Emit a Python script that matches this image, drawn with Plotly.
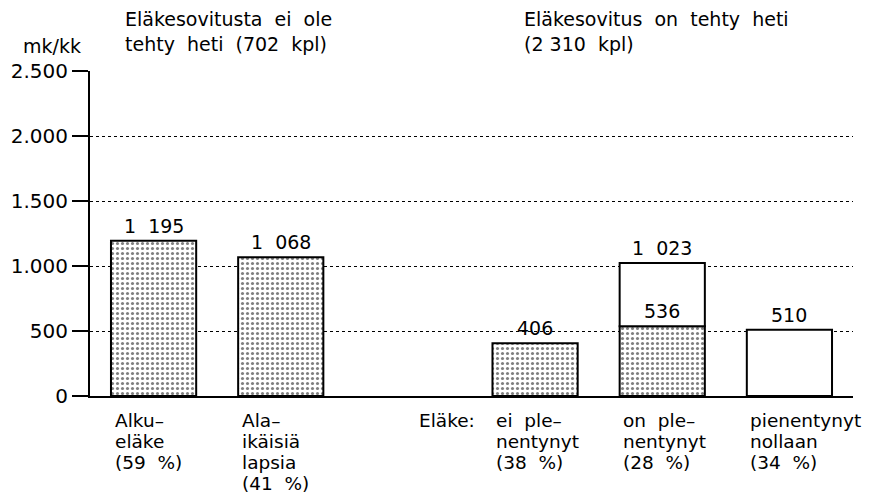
import plotly.graph_objects as go

# ---- data ----
positions = [0, 1, 3, 4, 5]
hatched_x = [0, 1, 3, 4]
hatched_values = [1195, 1068, 406, 536]
white_x = [4, 5]
white_top = [1023, 510]
white_base = [536, 0]
value_labels = [(0, 1195), (1, 1068), (3, 406), (4, 1023), (4, 536), (5, 510)]
cat_labels = [
    ["Alku–", "eläke", "(59  %)"],
    ["Ala–", "ikäisiä", "lapsia", "(41  %)"],
    ["ei  ple–", "nentynyt", "(38  %)"],
    ["on  ple–", "nentynyt", "(28  %)"],
    ["pienentynyt", "nollaan", "(34  %)"],
]
tick_vals = [0, 500, 1000, 1500, 2000, 2500]
tick_text = ["0", "500", "1.000", "1.500", "2.000", "2.500"]
title_left = "Eläkesovitusta  ei  ole<br>tehty  heti  (702  kpl)"
title_right = "Eläkesovitus  on  tehty  heti<br>(2 310  kpl)"
y_unit = "mk/kk"
elake_label = "Eläke:"

FONT = "DejaVu Sans"
BW = 0.67
LINE = 21.0

fig = go.Figure()
fig.add_trace(go.Bar(
    x=hatched_x, y=hatched_values, width=BW,
    marker=dict(color="white", line=dict(color="black", width=2),
                pattern=dict(shape=".", size=5, solidity=0.3,
                             fgcolor="black", bgcolor="white")),
    hoverinfo="skip", showlegend=False,
))
fig.add_trace(go.Bar(
    x=white_x, y=[t - b for t, b in zip(white_top, white_base)], base=white_base,
    width=BW,
    marker=dict(color="white", line=dict(color="black", width=2)),
    hoverinfo="skip", showlegend=False,
))

ann = []
for x, v in value_labels:
    s = f"{v:,}".replace(",", "  ")
    ann.append(dict(x=x, y=v, xref="x", yref="y", text=s, showarrow=False,
                    yanchor="bottom", yshift=2, font=dict(size=19)))
for x, lines in zip(positions, cat_labels):
    for i, t in enumerate(lines):
        ann.append(dict(x=x - BW / 2 + 0.02, y=0, xref="x", yref="y", text=t,
                        showarrow=False, xanchor="left", yanchor="middle",
                        yshift=-(24 + i * LINE), borderpad=0,
                        font=dict(size=18.5)))
ann.append(dict(x=3 - BW / 2 - 0.13, y=0, xref="x", yref="y", text=elake_label,
                showarrow=False, xanchor="right", yanchor="middle",
                yshift=-24, borderpad=0, font=dict(size=18.5)))
ann.append(dict(x=-0.24, y=1.0, xref="x", yref="paper", text=title_left,
                showarrow=False, xanchor="left", yanchor="bottom", align="left",
                yshift=14, font=dict(size=19)))
ann.append(dict(x=2.90, y=1.0, xref="x", yref="paper", text=title_right,
                showarrow=False, xanchor="left", yanchor="bottom", align="left",
                yshift=14, font=dict(size=19)))
ann.append(dict(x=0, y=1.0, xref="paper", yref="paper", text=y_unit,
                showarrow=False, xanchor="right", yanchor="bottom",
                xshift=-7, yshift=12, font=dict(size=19)))

# page body has an 8px margin, so figure is offset by 8px
fig.update_layout(
    width=865, height=487,
    margin=dict(l=82, r=20, t=63, b=99),
    paper_bgcolor="white", plot_bgcolor="white",
    font=dict(family=FONT, color="black", size=18),
    barmode="overlay",
    annotations=ann,
    xaxis=dict(range=[-0.5, 5.5], showticklabels=False, ticks="",
               showgrid=False, zeroline=False, showline=True,
               linecolor="black", linewidth=2, automargin=False),
    yaxis=dict(range=[0, 2500], tickvals=tick_vals, ticktext=tick_text,
               ticks="outside", ticklen=16, tickwidth=2, tickcolor="black",
               showline=True, linecolor="black", linewidth=2,
               showgrid=True, gridcolor="black", gridwidth=1, griddash="dot",
               zeroline=False, layer="above traces", automargin=False,
               tickfont=dict(size=20)),
)
fig.write_html("out.html")
